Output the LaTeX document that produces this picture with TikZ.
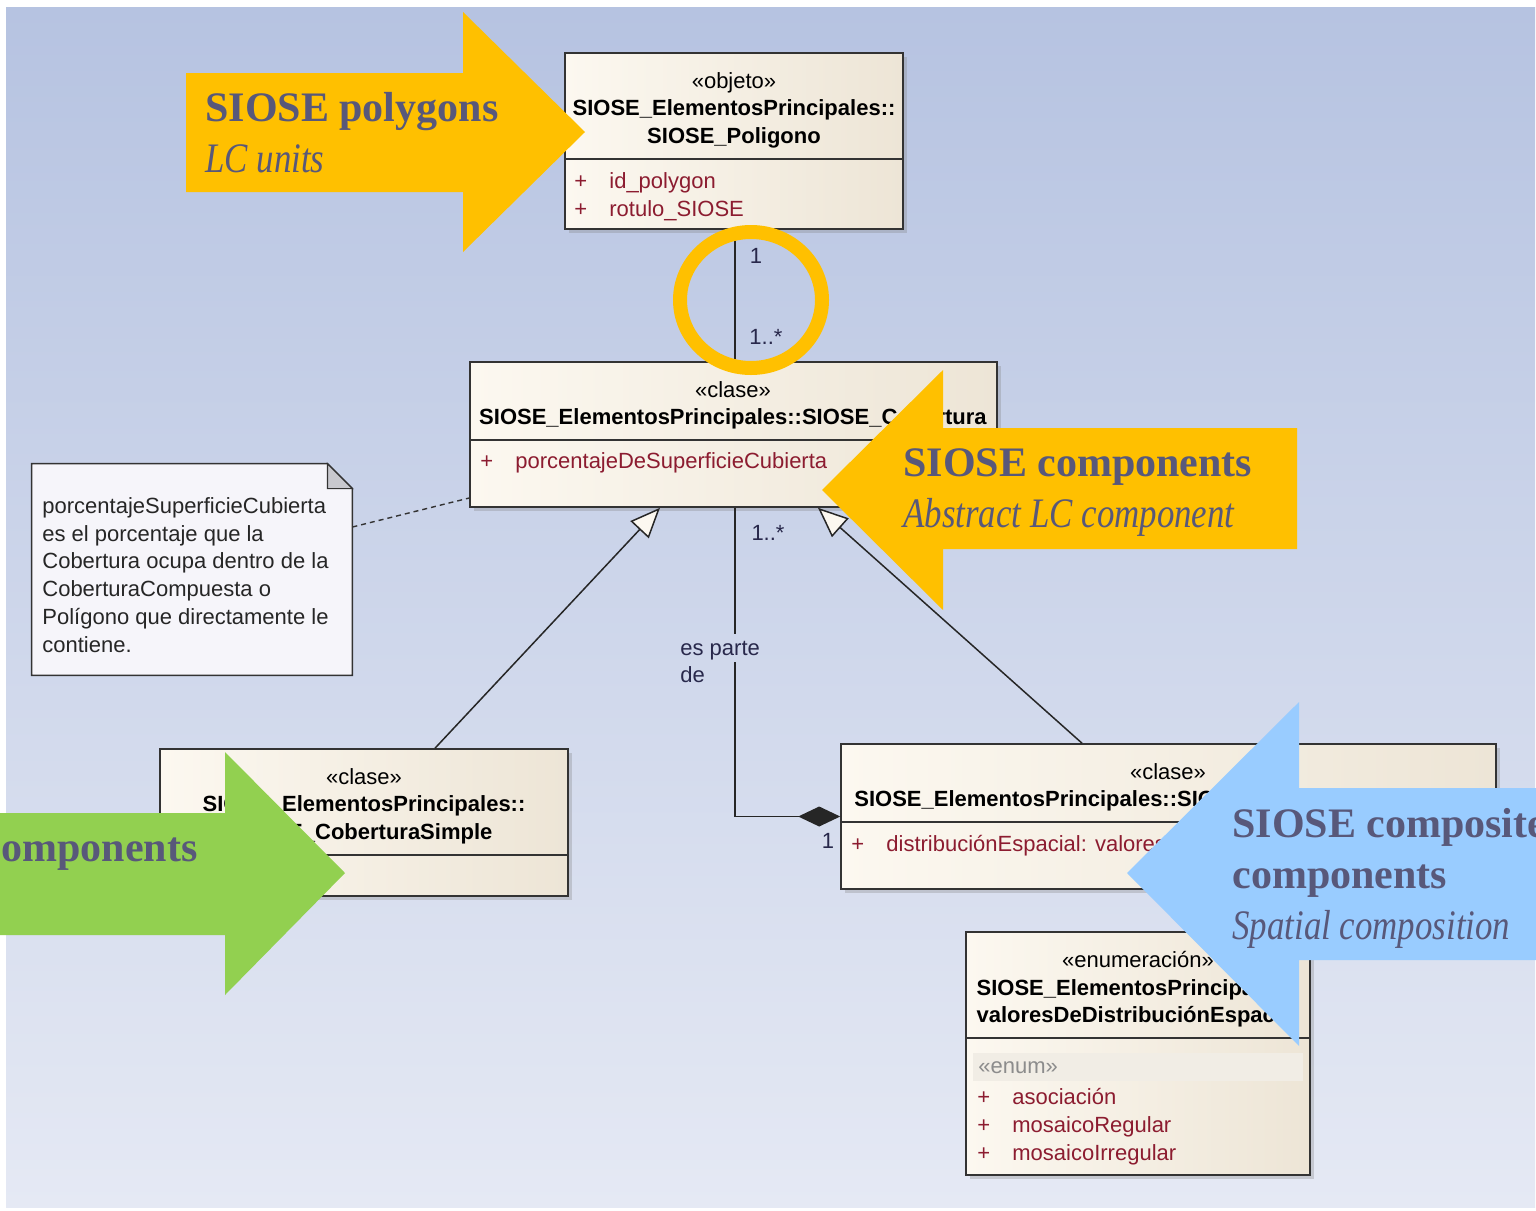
\documentclass[tikz,border=0pt]{standalone}
\usepackage{fontspec}
\newfontfamily\umlfont{Liberation Sans}
\newfontfamily\calloutfont{Liberation Serif}
\newfontfamily\calloutitfont{Liberation Serif}[FakeStretch=0.83]
\usetikzlibrary{arrows.meta,fit,shadows}
\definecolor{bgtop}{RGB}{182,195,225}
\definecolor{bgbottom}{RGB}{229,233,244}
\definecolor{creamleft}{RGB}{252,248,240}
\definecolor{creamright}{RGB}{237,229,214}
\definecolor{enumband}{RGB}{241,237,229}
\definecolor{attrred}{RGB}{140,28,48}
\definecolor{labelnavy}{RGB}{40,40,75}
\definecolor{notefill}{RGB}{246,245,250}
\definecolor{foldgrey}{RGB}{200,200,206}
\definecolor{calloutyellow}{RGB}{255,192,0}
\definecolor{calloutgreen}{RGB}{146,208,80}
\definecolor{calloutblue}{RGB}{153,204,255}
\definecolor{callouttext}{RGB}{88,88,122}
\newcommand\umlplus{\makebox[17.5pt][l]{+}}
\tikzset{umlbox/.style={draw=black!80,line width=0.8pt,inner sep=0pt,left color=creamleft,right color=creamright,
    drop shadow={shadow xshift=2pt,shadow yshift=-2pt,opacity=0.3,fill=black!50}},
  divider/.style={draw=black!80,line width=0.8pt},
  umltext/.style={font=\umlfont\fontsize{11}{13.75}\selectfont,align=center,inner sep=0pt,anchor=north},
  umlattr/.style={font=\umlfont\fontsize{11}{14}\selectfont,text=attrred,align=left,inner sep=0pt,anchor=north west},
  multlabel/.style={font=\umlfont\fontsize{11}{13.9}\selectfont,text=labelnavy,inner sep=0pt},
  notebox/.style={draw=black!80,line width=0.8pt,fill=notefill},
  assoc/.style={draw=black!85,line width=0.75pt},
  generalize/.style={assoc,-{Triangle[open,length=15pt,width=12.5pt,fill=creamleft]}},
  compose/.style={assoc,-{Diamond[length=21pt,width=10pt]}},
  notelink/.style={draw=black!80,line width=0.7pt,dash pattern=on 2.5pt off 2pt},
  ringline/.style={draw=calloutyellow,line width=7pt},
  callouttitle/.style={font=\calloutfont\bfseries\fontsize{21}{25}\selectfont,text=callouttext,inner sep=0pt,anchor=base west},
  calloutsub/.style={font=\calloutitfont\itshape\fontsize{21}{25}\selectfont,text=callouttext,inner sep=0pt,anchor=base west}}

\begin{document}
\begin{tikzpicture}[x=0.5pt,y=-0.5pt]
  \useasboundingbox (0,0) rectangle (1536,1210);
  \clip (0,0) rectangle (1536,1210);
  \fill[white] (0,0) rectangle (1536,1210);
  \shade[top color=bgtop,bottom color=bgbottom] (6,7) rectangle (1535,1207);

  % classes
  \node[umlbox,fit={(565,53) (903,229)}] (poligono) {};
  \draw[divider] (poligono.west |- 0,159) -- (poligono.east |- 0,159);
  \node[umltext] (poligonohead) at (734,72) {«objeto»\\\textbf{SIOSE\_ElementosPrincipales::}\\\textbf{SIOSE\_Poligono}};
  \node[umlattr] (poligonoattr) at (574,172) {\umlplus id\_polygon\\\umlplus rotulo\_SIOSE};

  \node[umlbox,fit={(470,362) (997,507)}] (cobertura) {};
  \draw[divider] (cobertura.west |- 0,440) -- (cobertura.east |- 0,440);
  \node[umltext] (coberturahead) at (733,381) {«clase»\\\textbf{SIOSE\_ElementosPrincipales::SIOSE\_Cobertura}};
  \node[umlattr] (coberturaattr) at (480,452) {\umlplus porcentajeDeSuperficieCubierta};

  \node[umlbox,fit={(160,749) (568,896)}] (simple) {};
  \draw[divider] (simple.west |- 0,855) -- (simple.east |- 0,855);
  \node[umltext] (simplehead) at (364,768) {«clase»\\\textbf{SIOSE\_ElementosPrincipales::}\\\textbf{SIOSE\_CoberturaSimple}};

  \node[umlbox,fit={(841,744) (1496,889)}] (compuesta) {};
  \draw[divider] (compuesta.west |- 0,822) -- (compuesta.east |- 0,822);
  \node[umltext] (compuestahead) at (1168,763) {«clase»\\\textbf{SIOSE\_ElementosPrincipales::SIOSE\_CoberturaCompuesta}};
  \node[umlattr] (compuestaattr) at (851,835) {\umlplus distribuciónEspacial: valoresDeDistribuciónEspacial};

  \node[umlbox,fit={(966,932) (1310,1175)}] (valores) {};
  \draw[divider] (valores.west |- 0,1038) -- (valores.east |- 0,1038);
  \node[umltext] (valoreshead) at (1138,951) {«enumeración»\\\textbf{SIOSE\_ElementosPrincipales::}\\\textbf{valoresDeDistribuciónEspacial}};
  \fill[enumband] (973,1053) rectangle (1303,1081);
  \node[umlattr,anchor=west,text=black!45] (valoresstereo) at (978,1068) {«enum»};
  \node[umlattr] (valoresattr) at (977,1088) {\umlplus asociación\\\umlplus mosaicoRegular\\\umlplus mosaicoIrregular};

  % note
  \node[inner sep=0pt,fit={(32,464) (352,675)}] (note) {};
  \draw[notebox] (note.south west) -- (note.north west) -- ([xshift=-12.5pt]note.north east)
    -- ([yshift=-12.5pt]note.north east) -- (note.south east) -- cycle;
  \filldraw[fill=foldgrey,draw=black!80,line width=0.6pt] ([xshift=-12.5pt]note.north east) -- ([xshift=-12.5pt,yshift=-12.5pt]note.north east) -- ([yshift=-12.5pt]note.north east) -- cycle;
  \node[umlattr,text=black!85,font=\umlfont\fontsize{11}{13.9}\selectfont] (notetext) at (42,497)
    {porcentajeSuperficieCubierta\\es el porcentaje que la\\Cobertura ocupa dentro de la\\CoberturaCompuesta o\\Polígono que directamente le\\contiene.};

  % connectors
  \draw[notelink] (note.east |- 0,527) -- (cobertura.west |- 0,498);
  \draw[assoc] (poligono.south -| 735,0) -- (cobertura.north -| 735,0);
  \draw[generalize] (simple.north -| 435,0) -- (cobertura.south -| 660,0);
  \draw[generalize] (compuesta.north -| 1082,0) -- (cobertura.south -| 818,0);
  \node[multlabel,anchor=west,align=left,inner sep=3pt] (espartede) at (674,662) {es parte\\de};
  \draw[assoc] (cobertura.south -| 735,0) -- (espartede.north -| 735,0);
  \draw[compose] (espartede.center -| 735,0) |- (compuesta.west);
  \node[multlabel] (multpoli) at (756,256) {1};
  \node[multlabel] (multcobtop) at (766,337) {1..*};
  \node[multlabel] (multcobbot) at (768,533) {1..*};
  \node[multlabel] (multcomp) at (828,841) {1};

  \draw[ringline] (751,300) ellipse [x radius=71,y radius=68];

  % callouts
  \fill[calloutyellow] (186,73) -- (463,73) -- (463,12) -- (585,132) -- (463,252) -- (463,192) -- (186,192) -- cycle;
  \node[callouttitle] (polytitle) at (205,121) {SIOSE polygons};
  \node[calloutsub] (polysub) at (205,172) {LC units};

  \fill[calloutyellow] (1297,428) -- (943,428) -- (943,370) -- (822,490) -- (943,610) -- (943,549) -- (1297,549) -- cycle;
  \node[callouttitle] (comptitle) at (903,476) {SIOSE components};
  \node[calloutsub] (compsub) at (903,527) {Abstract LC component};

  \fill[calloutgreen] (-20,813) -- (225,813) -- (225,752) -- (345,873) -- (225,995) -- (225,935) -- (-20,935) -- cycle;
  \node[callouttitle,anchor=base east] (simpletitle) at (198,861) {omponents};

  \fill[calloutblue] (1560,788) -- (1299,788) -- (1299,702) -- (1127,873) -- (1299,1046) -- (1299,960) -- (1560,960) -- cycle;
  \node[callouttitle] (composedtitle) at (1232,837) {SIOSE composite};
  \node[callouttitle] (composedtitleb) at (1232,888) {components};
  \node[calloutsub] (composedsub) at (1232,939) {Spatial composition};
\end{tikzpicture}
\end{document}
